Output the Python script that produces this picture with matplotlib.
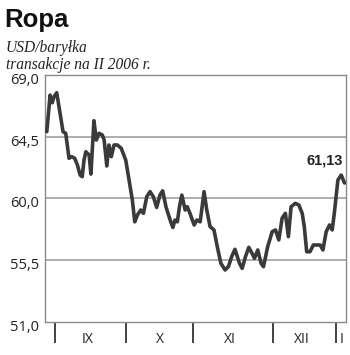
import matplotlib.pyplot as plt
from matplotlib.ticker import FixedLocator
from matplotlib.transforms import ScaledTranslation

# trading-day position (0 = left edge of the plot) and price in USD
days = [0.6, 1.7, 2.4, 3.0, 3.9, 5.2, 6.0, 6.9, 8.0, 8.9, 9.9, 10.8, 11.7, 12.4,
        13.0, 13.6, 14.7, 15.3, 16.3, 17.1, 18.0, 19.1, 19.7, 20.6, 21.3, 22.1,
        23.0, 24.1, 25.4, 26.9, 28.0, 29.1, 29.9, 30.8, 31.9, 32.8, 33.9, 35.0,
        36.1, 37.2, 38.3, 39.2, 40.3, 41.7, 42.6, 43.3, 44.1, 44.8, 45.6, 46.7,
        47.4, 48.3, 49.7, 50.6, 51.7, 53.0, 53.9, 55.0, 56.3, 57.4, 58.6, 60.0,
        61.1, 62.2, 63.3, 64.8, 65.7, 66.8, 67.9, 69.0, 69.8, 70.9, 72.0, 72.8,
        74.2, 75.7, 76.8, 77.9, 79.0, 80.1, 81.1, 82.0, 83.4, 84.6, 85.7, 86.4,
        87.2, 88.3, 89.4, 90.6, 91.7, 92.6, 93.7, 94.8, 95.7, 96.4, 97.6, 98.7,
        99.8]
price = [64.87, 67.54, 66.98, 67.42, 67.71, 65.96, 64.87, 64.75, 62.93, 63.05,
         62.93, 62.44, 61.71, 61.59, 62.80, 63.41, 63.17, 61.78, 65.67, 64.26,
         64.75, 64.63, 64.26, 62.37, 63.90, 63.05, 63.90, 63.90, 63.66, 62.80,
         61.35, 59.89, 58.30, 58.80, 59.16, 58.92, 60.13, 60.50, 60.13, 59.35,
         60.25, 60.56, 59.40, 58.43, 57.89, 58.43, 58.30, 59.40, 60.25, 59.16,
         59.40, 58.92, 58.07, 58.43, 58.30, 60.50, 59.16, 57.95, 57.71, 56.49,
         55.28, 54.79, 55.03, 55.76, 56.30, 55.28, 54.91, 55.76, 56.44, 56.00,
         55.64, 56.25, 55.28, 55.03, 56.49, 57.58, 57.71, 56.98, 58.56, 58.92,
         57.22, 59.40, 59.65, 59.52, 58.92, 57.95, 56.12, 56.12, 56.61, 56.61,
         56.61, 56.25, 57.58, 58.07, 57.71, 58.92, 61.35, 61.71, 61.13]

yticks = [51.0, 55.5, 60.0, 64.5, 69.0]
month_starts = [3.3, 26.9, 49.2, 75.9, 97.0]
month_mids = [14.3, 38.3, 61.7, 85.7, 98.7]
month_names = ["IX", "X", "XI", "XII", "I"]
last_label = "61,13"

fig = plt.figure(figsize=(3.5, 3.55), dpi=100)
ax = fig.add_axes([0.1286, 0.0930, 0.86, 0.6957])

ax.plot(days, price, color="#3a3a3a", lw=2.6, solid_joinstyle="round",
        solid_capstyle="round", zorder=3)

ax.set_xlim(0, 100.3)
ax.set_ylim(51, 69)

# horizontal grid
for v in yticks[1:-1]:
    ax.axhline(v, color="#999999", lw=1.1, zorder=1)

for s in ax.spines.values():
    s.set_color("#8a8a8a")
    s.set_linewidth(1.0)

ax.set_yticks(yticks)
ax.set_yticklabels([f"{v:.1f}".replace(".", ",") for v in yticks],
                   family="Open Sans", fontsize=10.5, color="#222222")
ax.tick_params(axis="y", length=0, pad=4)
# labels sit a little below their value in the original
shift = ScaledTranslation(0, -3.5 / 100, fig.dpi_scale_trans)
for lab in ax.get_yticklabels():
    lab.set_transform(lab.get_transform() + shift)

ax.xaxis.set_major_locator(FixedLocator(month_starts))
ax.xaxis.set_minor_locator(FixedLocator(month_mids))
ax.xaxis.set_major_formatter(plt.NullFormatter())
ax.set_xticklabels(month_names, minor=True, family="Open Sans",
                   fontsize=10, color="#222222")
ax.tick_params(axis="x", which="major", direction="out", length=15,
               width=1.3, color="#333333")
ax.tick_params(axis="x", which="minor", length=0, pad=7)

ax.text(99.1, 62.8, last_label, ha="right", va="center", fontsize=10.5,
        fontweight="bold", family="Liberation Sans", color="#222222")

fig.text(0.012, 0.978, "Ropa", ha="left", va="top", fontsize=18.5,
         fontweight="bold", family="Liberation Sans", color="#111111")
fig.text(0.017, 0.866, "USD/baryłka", ha="left", va="center", fontsize=11.2,
         style="italic", family="Liberation Serif", color="#222222")
fig.text(0.017, 0.817, "transakcje na II 2006 r.", ha="left", va="center",
         fontsize=11.2, style="italic", family="Liberation Serif", color="#222222")

fig.savefig("out.png", dpi=100)
